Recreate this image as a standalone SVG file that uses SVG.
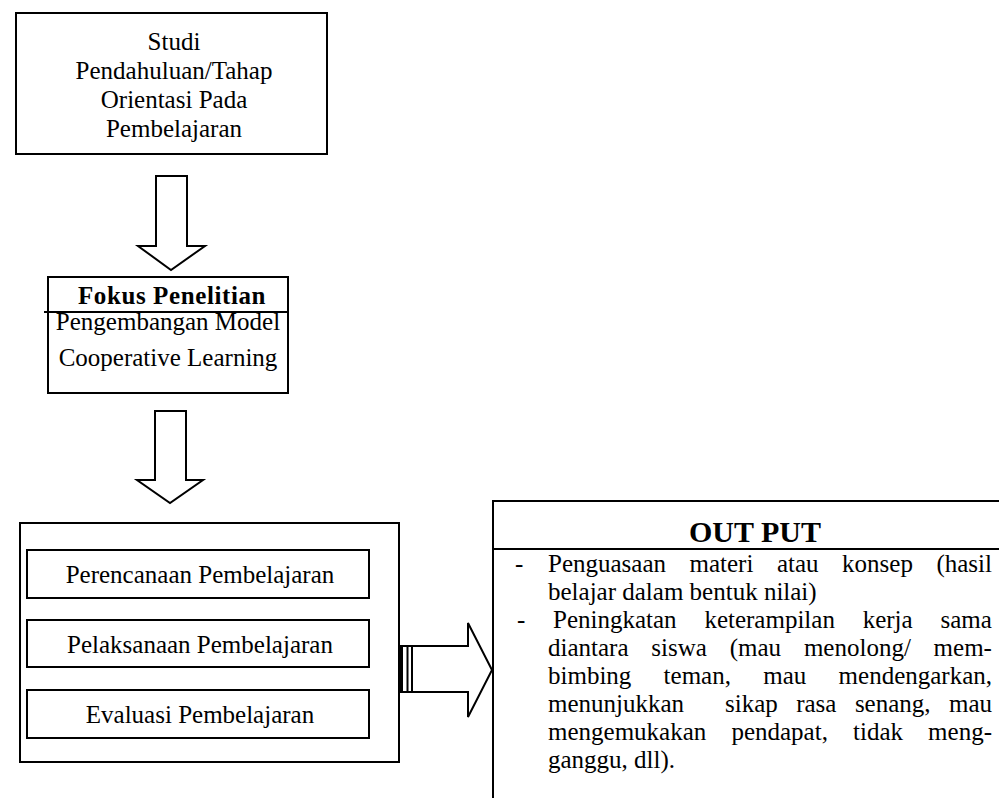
<svg xmlns="http://www.w3.org/2000/svg" width="999" height="798" viewBox="0 0 999 798">
<style>
.box{fill:none;stroke:#000;stroke-width:2}
.ln{stroke:#000;stroke-width:2;fill:none}
.arrow{fill:#fff;stroke:#000;stroke-width:2;stroke-linejoin:miter}
.t{font-family:"Liberation Serif","Times New Roman",serif;font-size:25px;fill:#000}
.c{text-anchor:middle}
.b{font-weight:bold}
</style>
<rect width="999" height="798" fill="#fff"/>
<g id="connectors">
<polygon class="arrow" points="156,176 187,176 187,246 205,246 171,270 138,246 156,246"/>
<polygon class="arrow" points="155,411 186,411 186,480 203,480 170,503 137,480 155,480"/>
<polygon class="arrow" points="399,646 468,646 468,623 492,670 468,717 468,692 399,692"/>
<rect x="398" y="646" width="5" height="46" fill="#000"/>
<line class="ln" x1="407.5" y1="646" x2="407.5" y2="692"/>
<line class="ln" x1="412" y1="646" x2="412" y2="692"/>
</g>
<g id="node-studi">
<rect class="box" x="16" y="13" width="311" height="141"/>
<text class="t c" x="174" y="50">Studi</text>
<text class="t c" x="174" y="79">Pendahuluan/Tahap</text>
<text class="t c" x="174" y="108">Orientasi Pada</text>
<text class="t c" x="174" y="137">Pembelajaran</text>
</g>
<g id="node-fokus">
<rect class="box" x="48" y="277" width="240" height="116"/>
<text class="t c b" x="172" y="304" style="letter-spacing:0.6px">Fokus Penelitian</text>
<text class="t c" x="168" y="330">Pengembangan Model</text>
<line class="ln" x1="44" y1="312" x2="288" y2="312"/>
<text class="t c" x="168" y="366">Cooperative Learning</text>
</g>
<g id="node-kegiatan">
<rect class="box" x="20" y="523" width="379" height="239"/>
<g id="node-perencanaan">
<rect class="box" x="27" y="550" width="342" height="48"/>
<text class="t c" x="200" y="583">Perencanaan Pembelajaran</text>
</g>
<g id="node-pelaksanaan">
<rect class="box" x="27" y="620" width="342" height="47"/>
<text class="t c" x="200" y="653">Pelaksanaan Pembelajaran</text>
</g>
<g id="node-evaluasi">
<rect class="box" x="27" y="690" width="342" height="48"/>
<text class="t c" x="200" y="723">Evaluasi Pembelajaran</text>
</g>
</g>
<g id="node-output">
<path class="ln" d="M999,501 H493 V798 M493,549 H999"/>
<text class="t c b" x="755" y="542" style="font-size:30px">OUT PUT</text>
<text class="t" x="515" y="572">-</text>
<text class="t" y="572"><tspan x="548">Penguasaan</tspan><tspan x="689.5">materi</tspan><tspan x="776.9">atau</tspan><tspan x="842.1">konsep</tspan><tspan x="936.4">(hasil</tspan></text>
<text class="t" x="548" y="600">belajar dalam bentuk nilai)</text>
<text class="t" x="517" y="628">-</text>
<text class="t" y="628"><tspan x="553">Peningkatan</tspan><tspan x="704.4">keterampilan</tspan><tspan x="862.7">kerja</tspan><tspan x="940.5">sama</tspan></text>
<text class="t" y="656"><tspan x="548">diantara</tspan><tspan x="651.3">siswa</tspan><tspan x="729.7">(mau</tspan><tspan x="803.9">menolong/</tspan><tspan x="933.6">mem-</tspan></text>
<text class="t" y="684"><tspan x="548">bimbing</tspan><tspan x="663.6">teman,</tspan><tspan x="763.2">mau</tspan><tspan x="838.6">mendengarkan,</tspan></text>
<text class="t" y="712"><tspan x="548">menunjukkan</tspan><tspan x="725">sikap</tspan><tspan x="796.2">rasa</tspan><tspan x="854.9">senang,</tspan><tspan x="949">mau</tspan></text>
<text class="t" y="740"><tspan x="548">mengemukakan</tspan><tspan x="731.4">pendapat,</tspan><tspan x="853">tidak</tspan><tspan x="928.1">meng-</tspan></text>
<text class="t" x="548" y="768">ganggu, dll).</text>
</g>
</svg>
